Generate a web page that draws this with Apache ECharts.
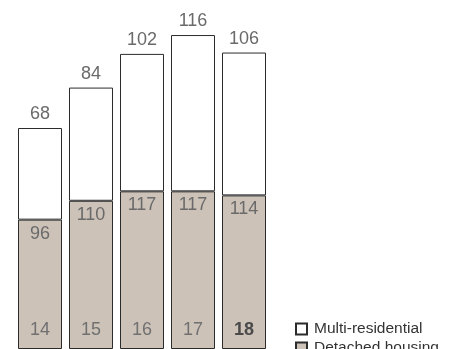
<!DOCTYPE html>
<html>
<head>
<meta charset="utf-8">
<script src="https://cdn.jsdelivr.net/npm/echarts@6/dist/echarts.min.js"></script>
<style>
  html, body { margin: 0; padding: 0; background: #fff; }
  #chart { width: 455px; height: 349px; }
</style>
</head>
<body>
<div id="chart"></div>
<script>
// Housing starts by year: two stacked components
const years = ['14', '15', '16', '17', '18'];
const detachedHousing = [96, 110, 117, 117, 114];
const multiResidential = [68, 84, 102, 116, 106];
const seriesNames = ['Multi-residential', 'Detached housing'];

const FONT = '"Liberation Sans", Arial, sans-serif';
const edge = { borderColor: '#2b2b2b', borderWidth: 1 };

// one legend block per series, stacked one under the other
function legendBlock(name, top) {
  return {
    orient: 'vertical',
    left: 290,
    top: top,
    icon: 'rect',
    itemWidth: 11,
    itemHeight: 11,
    data: [name],
    textStyle: { fontSize: 15.5, color: '#333', fontFamily: FONT, padding: [0, 0, 0, 2] }
  };
}

const chart = echarts.init(document.getElementById('chart'), null, { renderer: 'canvas' });
chart.setOption({
  animation: false,
  textStyle: { fontFamily: FONT },
  grid: { left: 14.5, right: 185.5, top: 0, bottom: -2 },
  xAxis: {
    type: 'category',
    data: years,
    z: 10,
    axisLine: { show: false },
    axisTick: { show: false },
    axisLabel: {
      inside: true,
      interval: 0,
      margin: 10,
      fontSize: 18,
      color: '#707070',
      fontFamily: FONT,
      formatter: function (v, i) {
        return i === years.length - 1 ? '{b|' + v + '}' : v;
      },
      rich: { b: { fontSize: 18, fontWeight: 'bold', color: '#4a4a4a', fontFamily: FONT } }
    }
  },
  yAxis: { type: 'value', min: 0, max: 259, show: false, splitLine: { show: false } },
  legend: [legendBlock(seriesNames[0], 316), legendBlock(seriesNames[1], 335)],
  series: [
    {
      name: 'Detached housing',
      type: 'bar',
      stack: 'total',
      barWidth: 44,
      data: detachedHousing,
      itemStyle: Object.assign({ color: '#ccc2b8' }, edge),
      label: { show: true, position: 'insideTop', distance: 5, fontSize: 18, color: '#6a6a6a', fontFamily: FONT }
    },
    {
      name: 'Multi-residential',
      type: 'bar',
      stack: 'total',
      barWidth: 44,
      data: multiResidential,
      itemStyle: Object.assign({ color: '#ffffff' }, edge),
      label: { show: true, position: 'top', distance: 5, fontSize: 18, color: '#6a6a6a', fontFamily: FONT }
    }
  ]
});
</script>
</body>
</html>
